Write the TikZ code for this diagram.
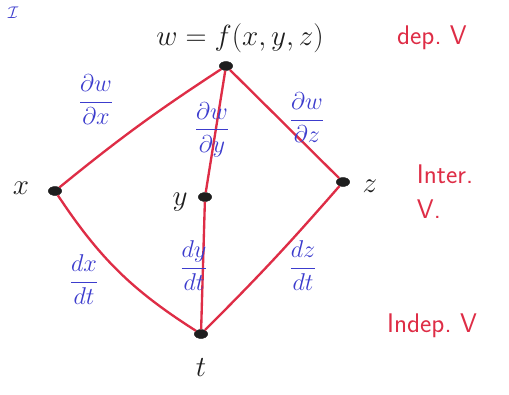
\documentclass[tikz,border=0pt]{standalone}
\usepackage{amsmath,amssymb}
\usepackage{tikz}
\usetikzlibrary{shapes.geometric, positioning}
\definecolor{inkred}{RGB}{222,45,70}
\definecolor{inkblue}{RGB}{60,60,205}
\definecolor{inkblack}{RGB}{30,30,30}

\begin{document}
\begin{tikzpicture}[
  x=0.03cm, y=-0.03cm,
  dot/.style={
    ellipse, fill=inkblack, draw=inkblack,
    minimum width=0.4cm, minimum height=0.27cm, inner sep=0pt
  },
  var/.style={text=inkblack, font=\fontsize{24}{26}\selectfont},
  rate/.style={text=inkblue, font=\fontsize{21}{24}\selectfont, inner sep=1pt},
  level/.style={text=inkred, align=left, font=\fontsize{23}{30}\selectfont\sffamily},
  edge/.style={draw=inkred, line width=2pt}
]
  \useasboundingbox (0,0) rectangle (509,394);

  % Nodes
  \node[dot] (w) at (226,66)  {};
  \node[dot] (x) at (55,191)  {};
  \node[dot] (y) at (205,197) {};
  \node[dot] (z) at (343,182) {};
  \node[dot] (t) at (201,334) {};

  \node[var] (wlab) at (240,38)  {$w=f(x,y,z)$};
  \node[var] (xlab) at (21,188)  {$x$};
  \node[var] (ylab) at (180,202) {$y$};
  \node[var] (zlab) at (370,186) {$z$};
  \node[var] (tlab) at (201,368) {$t$};

  % Edges
  \draw[edge] (w) to[bend right=3] (x);
  \draw[edge] (w) -- (y);
  \draw[edge] (w) -- (z);
  \draw[edge] (x) to[bend right=12] (t);
  \draw[edge] (y) -- (t);
  \draw[edge] (z) to[bend left=2] (t);

  % Derivatives
  \node[rate] (dwdx) at (96,100)  {$\dfrac{\partial w}{\partial x}$};
  \node[rate] (dwdy) at (212,130) {$\dfrac{\partial w}{\partial y}$};
  \node[rate] (dwdz) at (307,118) {$\dfrac{\partial w}{\partial z}$};
  \node[rate] (dxdt) at (84,280)  {$\dfrac{dx}{dt}$};
  \node[rate] (dydt) at (194,266) {$\dfrac{dy}{dt}$};
  \node[rate] (dzdt) at (303,266) {$\dfrac{dz}{dt}$};

  % Levels
  \node[level] (dep)   at (432,38)  {dep.\ V};
  \node[level] (inter) at (445,192) {Inter.\\V.};
  \node[level] (indep) at (432,326) {Indep.\ V};
  \node[text=inkblue, font=\Large] (corner) at (13,13) {$\mathcal{I}$};
\end{tikzpicture}
\end{document}
